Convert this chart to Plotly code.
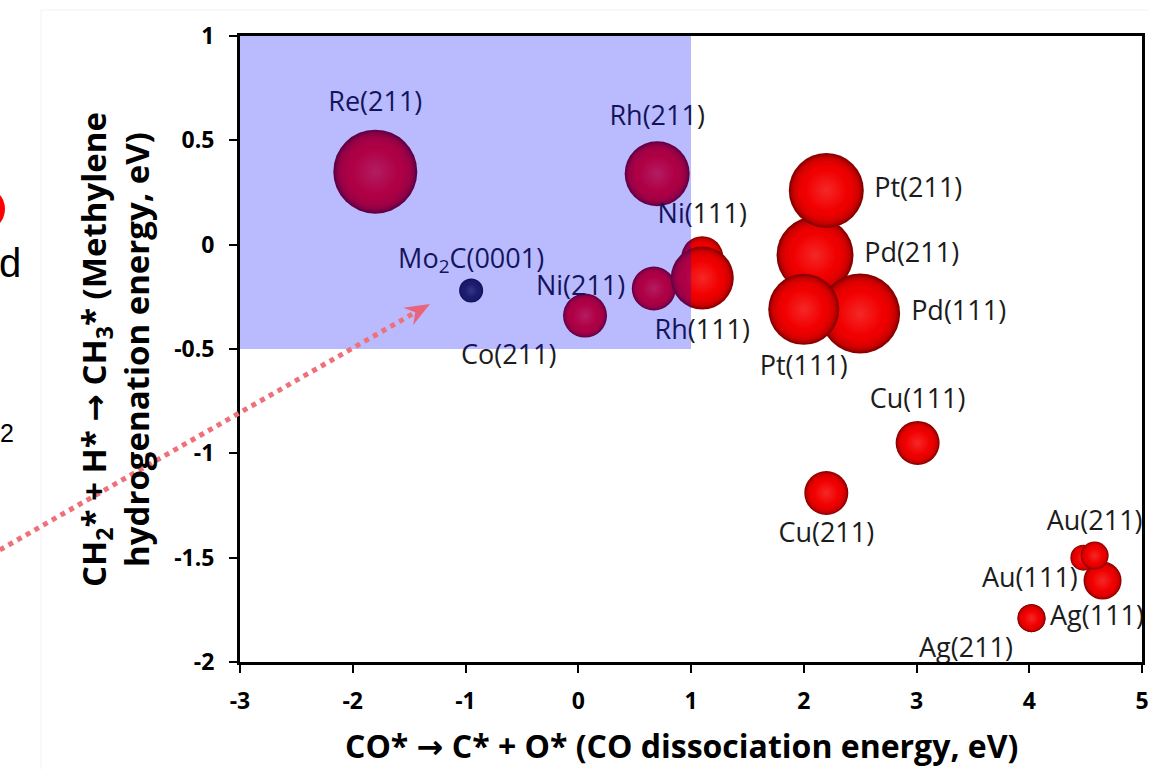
import plotly.graph_objects as go

# ---------------- data ----------------
surfaces = ["Re(211)", "Rh(211)", "Mo<sub>2</sub>C(0001)", "Co(211)", "Ni(211)", "Ni(111)", "Rh(111)",
            "Pd(211)", "Pt(211)", "Pd(111)", "Pt(111)", "Cu(111)", "Cu(211)",
            "Au(111)", "", "Au(211)", "Ag(211)", "Ag(111)"]
co_dissociation = [-1.80, 0.70, -0.95, 0.06, 0.67, 1.10, 1.10,
                   2.10, 2.20, 2.50, 2.00, 3.01, 2.20,
                   4.65, 4.48, 4.58, 4.02, 4.02]
ch2_hydrogenation = [0.35, 0.34, -0.22, -0.34, -0.21, -0.06, -0.16,
                     -0.05, 0.26, -0.33, -0.31, -0.95, -1.19,
                     -1.61, -1.50, -1.49, -1.79, -1.79]
bubble_size = [84, 65, 24, 44, 44, 42, 63,
               77, 75, 80, 71, 44, 44,
               38, 26, 28, 28, 28]
label_position = ["top center", "top center", "top center", "bottom left", "middle left", "top center", "bottom center",
                  "middle right", "middle right", "middle right", "bottom center", "top center", "bottom center",
                  "middle left", "top center", "top center", "bottom left", "middle right"]
carbide = ["Mo<sub>2</sub>C(0001)"]

x_ticks = [-3, -2, -1, 0, 1, 2, 3, 4, 5]
x_tick_text = ["-3", "-2", "-1", "0", "1", "2", "3", "4", "5"]
y_ticks = [-2, -1.5, -1, -0.5, 0, 0.5, 1]
y_tick_text = ["-2", "-1.5", "-1", "-0.5", "0", "0.5", "1"]

x_title = "CO* → C* + O* (CO dissociation energy, eV)"
y_title = "CH<sub>2</sub>* + H* → CH<sub>3</sub>* (Methylene<br>hydrogenation energy, eV)"

region_x = [-3, 1]
region_y = [-0.5, 1]
arrow_start = [-5.13, -1.463]
arrow_end = [-1.315, -0.284]

# ---------------- layout geometry ----------------
W, H = 1149, 769
ML, MR, MT, MB = 240, 7, 36, 107
PW, PH = W - ML - MR, H - MT - MB
XR, YR = [-3, 5], [-2, 1]
ppx = PW / (XR[1] - XR[0])
ppy = PH / (YR[1] - YR[0])


def px_x(p):
    return (p - ML) / PW


def px_y(p):
    return (H - MB - p) / PH


def shade(rgb, f, a=1.0):
    if f <= 1:
        c = [v * f for v in rgb]
    else:
        m = min(f - 1, 1)
        c = [v + (255 - v) * m for v in rgb]
    return "rgba(%d,%d,%d,%.2f)" % (c[0], c[1], c[2], a)


RED = (242, 0, 0)
DARK = (40, 40, 58)
# (size fraction, edge factor, centre factor)
rings = [(1.00, 0.56, 0.56), (0.955, 0.70, 0.70), (0.91, 0.81, 0.81), (0.855, 0.89, 0.89),
         (0.78, 0.95, 0.95), (0.68, 0.99, 0.99), (0.55, 1.0, 1.16)]

fig = go.Figure()
for i in range(len(surfaces)):
    base = DARK if surfaces[i] in carbide else RED
    for frac, fe, fc in rings:
        fig.add_trace(go.Scatter(
            x=[co_dissociation[i]], y=[ch2_hydrogenation[i]], mode="markers",
            marker=dict(size=bubble_size[i] * frac, color=shade(base, fe),
                        gradient=dict(type="radial", color=shade(base, fc)),
                        line=dict(width=0)),
            hoverinfo="skip", showlegend=False, cliponaxis=False))

fig.add_trace(go.Scatter(
    x=co_dissociation, y=ch2_hydrogenation, mode="markers+text",
    text=surfaces, textposition=label_position,
    marker=dict(size=bubble_size, opacity=0),
    textfont=dict(family="Open Sans", size=27, color="#1c1c1c"),
    hoverinfo="skip", showlegend=False, cliponaxis=False))

# promising region overlay (drawn above the bubbles)
fig.add_shape(type="rect", xref="x", yref="y", x0=region_x[0], x1=region_x[1],
              y0=region_y[0], y1=region_y[1], fillcolor="rgba(0,0,255,0.27)",
              line=dict(width=0), layer="above")

# dotted arrow (geometry worked out in plot pixels, y pointing up, then mapped to paper)
X0, Y0 = (arrow_start[0] - XR[0]) * ppx, (arrow_start[1] - YR[0]) * ppy
X1, Y1 = (arrow_end[0] - XR[0]) * ppx, (arrow_end[1] - YR[0]) * ppy
L = ((X1 - X0) ** 2 + (Y1 - Y0) ** 2) ** 0.5
ux, uy = (X1 - X0) / L, (Y1 - Y0) / L
nx, ny = -uy, ux
HEAD_LEN, HEAD_HALF, NOTCH = 25, 10, 17
bx, by = X1 - ux * HEAD_LEN, Y1 - uy * HEAD_LEN
kx, ky = X1 - ux * NOTCH, Y1 - uy * NOTCH
fig.add_shape(type="line", xref="paper", yref="paper", x0=X0 / PW, y0=Y0 / PH, x1=kx / PW, y1=ky / PH,
              line=dict(color="rgb(240,112,122)", width=5, dash="5px,5px"), layer="above")
pts = [(X1, Y1), (bx + nx * HEAD_HALF, by + ny * HEAD_HALF), (kx, ky), (bx - nx * HEAD_HALF, by - ny * HEAD_HALF)]
path = "M " + " L ".join("%.5f,%.5f" % (p[0] / PW, p[1] / PH) for p in pts) + " Z"
fig.add_shape(type="path", xref="paper", yref="paper", path=path,
              fillcolor="rgb(232,100,122)", line=dict(width=0), layer="above")

# cropped neighbouring-panel remnants on the left edge
fig.add_shape(type="line", xref="paper", yref="paper", x0=px_x(41), x1=px_x(41), y0=px_y(10), y1=px_y(769),
              line=dict(color="rgb(243,243,243)", width=1), layer="below")
fig.add_shape(type="line", xref="paper", yref="paper", x0=px_x(41), x1=px_x(1149), y0=px_y(10), y1=px_y(10),
              line=dict(color="rgb(243,243,243)", width=1), layer="below")
fig.add_shape(type="circle", xref="paper", yref="paper", x0=px_x(-39), x1=px_x(5), y0=px_y(231), y1=px_y(187),
              fillcolor="rgb(255,0,0)", line=dict(width=0))
fig.add_annotation(xref="paper", yref="paper", x=px_x(-3), y=px_y(263), text="d", showarrow=False,
                   xanchor="left", yanchor="middle", font=dict(family="Liberation Sans", size=40, color="black"))
fig.add_annotation(xref="paper", yref="paper", x=px_x(-2), y=px_y(433), text="2", showarrow=False,
                   xanchor="left", yanchor="middle", font=dict(family="Liberation Sans", size=25, color="black"))

# axis titles
ARROW = "<span style='font-family:DejaVu Sans'>→</span>"
fig.add_annotation(xref="paper", yref="paper", x=px_x(681), y=px_y(745), showarrow=False,
                   text=x_title.replace("→", ARROW), xanchor="center", yanchor="middle",
                   font=dict(family="Open Sans", size=32, color="black", weight="bold"))
fig.add_annotation(xref="paper", yref="paper", x=px_x(115), y=px_y(350), showarrow=False, textangle=-90,
                   text=y_title.replace("→", ARROW), xanchor="center", yanchor="middle",
                   font=dict(family="Open Sans", size=33, color="black", weight="bold"))

axis_common = dict(showline=True, linewidth=3, linecolor="black", mirror=True,
                   ticks="outside", ticklen=8, tickwidth=2, tickcolor="black",
                   showgrid=False, zeroline=False, automargin=False,
                   tickfont=dict(family="Open Sans", size=23, color="black", weight="bold"))

fig.update_layout(
    width=W, height=H, margin=dict(l=ML, r=MR, t=MT, b=MB, autoexpand=False),
    paper_bgcolor="white", plot_bgcolor="white",
    xaxis=dict(range=XR, tickvals=x_ticks, ticktext=x_tick_text, ticklabelstandoff=8, **axis_common),
    yaxis=dict(range=YR, tickvals=y_ticks, ticktext=y_tick_text, ticklabelstandoff=10, **axis_common),
)

fig.write_html("out.html", config={"displayModeBar": False},
               post_script="document.body.style.margin='0px';document.body.style.overflow='hidden';")
